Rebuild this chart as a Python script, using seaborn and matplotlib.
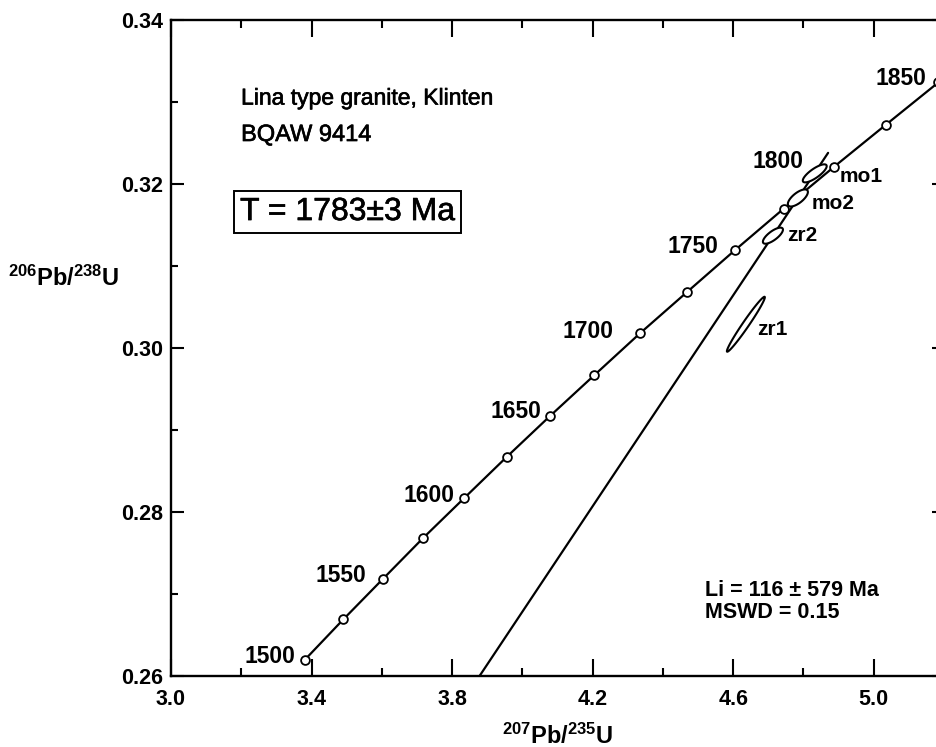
import numpy as np
import matplotlib
matplotlib.use("Agg")
import matplotlib.pyplot as plt
import matplotlib.patheffects as pe
import seaborn as sns
from matplotlib.ticker import FixedLocator, FixedFormatter

# Concordia age markers (Ma) and their isotope ratios
conc_age = [1500, 1525, 1550, 1575, 1600, 1625, 1650, 1675, 1700,
            1725, 1750, 1775, 1800, 1825, 1850]
conc_x = [3.3813, 3.4902, 3.6021, 3.7168, 3.8344, 3.9549, 4.0784, 4.2050,
          4.3348, 4.4678, 4.6040, 4.7437, 4.8869, 5.0336, 5.1841]
conc_y = [0.2620, 0.2669, 0.2718, 0.2768, 0.2817, 0.2867, 0.2917, 0.2967,
          0.3018, 0.3068, 0.3119, 0.3170, 0.3221, 0.3272, 0.3324]
labelled_ages = [1500, 1550, 1600, 1650, 1700, 1750, 1800, 1850]

# Discordia chord (upper intercept 1783 Ma, lower intercept 116 Ma)
disc_x = [3.878, 4.870]
disc_y = [0.2600, 0.3238]

# Analysed fractions: centre, half-extent in x and y, error correlation
samples = ["zr1", "zr2", "mo2", "mo1"]
samp_x = [4.636, 4.713, 4.784, 4.832]
samp_y = [0.3029, 0.3137, 0.3183, 0.3213]
samp_sx = [0.054, 0.0285, 0.0285, 0.034]
samp_sy = [0.00335, 0.00098, 0.00104, 0.0011]
samp_rho = [0.98, 0.75, 0.70, 0.80]

x_major = [3.0, 3.4, 3.8, 4.2, 4.6, 5.0]
x_major_labels = ["3.0", "3.4", "3.8", "4.2", "4.6", "5.0"]
x_minor = [3.2, 3.6, 4.0, 4.4, 4.8]
y_major = [0.26, 0.28, 0.30, 0.32, 0.34]
y_major_labels = ["0.26", "0.28", "0.30", "0.32", "0.34"]
y_minor = [0.27, 0.29, 0.31, 0.33]

sns.set_theme(style="ticks")
plt.rcParams["font.family"] = ["Liberation Sans", "DejaVu Sans"]
plt.rcParams["mathtext.fontset"] = "custom"
plt.rcParams["mathtext.rm"] = "Liberation Sans"
plt.rcParams["mathtext.bf"] = "Liberation Sans:bold"
plt.rcParams["text.color"] = "black"
plt.rcParams["axes.labelcolor"] = "black"
plt.rcParams["xtick.color"] = "black"
plt.rcParams["ytick.color"] = "black"

fig = plt.figure(figsize=(9.36, 7.47), dpi=100)
ax = fig.add_axes([0.1827, 0.0950, 0.8259, 0.8782])
ax.set_xlim(3.0, 5.2)
ax.set_ylim(0.26, 0.34)

# concordia
sns.lineplot(x=conc_x, y=conc_y, sort=False, estimator=None, color="black",
             lw=1.6, ax=ax, zorder=2)
sns.scatterplot(x=conc_x, y=conc_y, marker="o", s=40, facecolor="white",
                edgecolor="black", linewidth=1.3, ax=ax, zorder=4)

# discordia
sns.lineplot(x=disc_x, y=disc_y, sort=False, estimator=None, color="black",
             lw=1.6, ax=ax, zorder=2)

# error ellipses
t = np.linspace(0, 2 * np.pi, 200)
for name, cx, cy, sx, sy, r in zip(samples, samp_x, samp_y, samp_sx, samp_sy, samp_rho):
    ex = cx + sx * np.cos(t)
    ey = cy + sy * (r * np.cos(t) + np.sqrt(1 - r ** 2) * np.sin(t))
    ax.fill(ex, ey, facecolor="white", edgecolor="black", lw=1.5, zorder=5)

# age labels on the concordia
age_offsets = {1500: (-7, 2), 1550: (-11.5, 3), 1600: (-7, 2), 1650: (-6, 3.5),
               1700: (-19, 1), 1750: (-11.5, 3), 1800: (-22, 4), 1850: (-8.5, 3)}
for age in labelled_ages:
    i = conc_age.index(age)
    ax.annotate(str(age), (conc_x[i], conc_y[i]), xytext=age_offsets[age],
                textcoords="offset points", ha="right", va="center",
                fontsize=16.5, fontweight="bold", color="black", zorder=6)

# sample labels
samp_offsets = {"zr1": (8, -4), "zr2": (10, 0), "mo2": (10, -4), "mo1": (18, -2)}
for name, cx, cy in zip(samples, samp_x, samp_y):
    ax.annotate(name, (cx, cy), xytext=samp_offsets[name],
                textcoords="offset points", ha="left", va="center",
                fontsize=15, fontweight="bold", color="black", zorder=6)

# axes styling
ax.xaxis.set_major_locator(FixedLocator(x_major))
ax.xaxis.set_major_formatter(FixedFormatter(x_major_labels))
ax.xaxis.set_minor_locator(FixedLocator(x_minor))
ax.yaxis.set_major_locator(FixedLocator(y_major))
ax.yaxis.set_major_formatter(FixedFormatter(y_major_labels))
ax.yaxis.set_minor_locator(FixedLocator(y_minor))
ax.tick_params(which="both", direction="in", top=True, right=True,
               color="black", width=1.5, labelsize=15.5, labelcolor="black")
ax.tick_params(axis="x", which="major", length=12, pad=9)
ax.tick_params(axis="x", which="minor", length=6)
ax.tick_params(axis="y", which="major", length=9, pad=6)
ax.tick_params(axis="y", which="minor", length=5)
for lab in ax.get_xticklabels() + ax.get_yticklabels():
    lab.set_fontweight("bold")
for sp in ax.spines.values():
    sp.set_color("black")
    sp.set_linewidth(1.7)
ax.set_xlabel("")
ax.set_ylabel("")

# annotations (slightly heavier stroke for a medium-weight look)
medium = [pe.withStroke(linewidth=0.45, foreground="black")]
ax.text(0.0906, 0.881, "Lina type granite, Klinten", transform=ax.transAxes,
        fontsize=16.5, ha="left", va="center", color="black", path_effects=medium)
ax.text(0.0906, 0.8247, "BQAW 9414", transform=ax.transAxes,
        fontsize=17, ha="left", va="center", color="black", path_effects=medium)
ax.text(0.0893, 0.7073, "T = 1783\u00b13 Ma", transform=ax.transAxes,
        fontsize=23, ha="left", va="center", color="black", path_effects=medium,
        bbox=dict(boxstyle="square,pad=0.18", fc="white", ec="black", lw=1.4))
ax.text(0.6908, 0.131, "Li = 116 \u00b1 579 Ma", transform=ax.transAxes,
        fontsize=15.5, fontweight="bold", ha="left", va="center", color="black")
ax.text(0.6908, 0.0976, "MSWD = 0.15", transform=ax.transAxes,
        fontsize=15.5, fontweight="bold", ha="left", va="center", color="black")

fig.text(64 / 936, 1 - 278 / 747, r"$\mathbf{^{206}Pb/^{238}U}$",
         fontsize=17, ha="center", va="center", color="black")
fig.text(558 / 936, 1 - 736 / 747, r"$\mathbf{^{207}Pb/^{235}U}$",
         fontsize=17, ha="center", va="center", color="black")

fig.savefig("out.png", dpi=100)
